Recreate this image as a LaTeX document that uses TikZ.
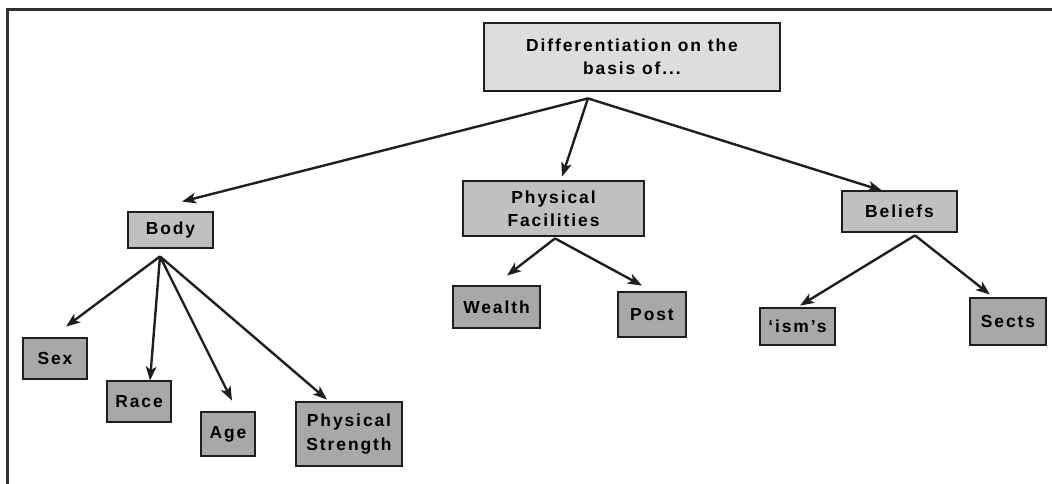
\documentclass[tikz,border=0pt]{standalone}
\usepackage{fontspec}
\setmainfont{Liberation Sans}
\newfontfamily\boxfont{Liberation Sans}[LetterSpace=11]
\usetikzlibrary{arrows.meta, calc}
\definecolor{boxedge}{HTML}{1E1E1E}
\definecolor{framegray}{HTML}{2E2E2E}
\definecolor{toplight}{HTML}{DDDDDD}
\definecolor{midgray}{HTML}{C0C0C0}
\definecolor{leafgray}{HTML}{A8A8A8}

\begin{document}
\begin{tikzpicture}[
  x=0.025cm, y=-0.025cm,
  box/.style={rectangle, draw=boxedge, line width=2pt, inner sep=0pt, align=center,
    font=\boxfont\bfseries\fontsize{12.4}{16.5}\selectfont},
  topbox/.style={box, fill=toplight},
  midbox/.style={box, fill=midgray},
  leafbox/.style={box, fill=leafgray},
  arr/.style={-{Stealth[length=10pt, width=7.5pt, inset=2.5pt]}, line width=1.7pt, boxedge}
]
\useasboundingbox (0,0) rectangle (1052,484);
\draw[framegray, line width=2pt] (6,9.5) -- (1052,9.5);
\draw[framegray, line width=2pt] (7.5,9) -- (7.5,484);

\node[topbox, minimum width=7.4cm, minimum height=1.7cm] (basis) at (632,57) {Differentiation on the\\basis of...};
\node[midbox, minimum width=2.125cm, minimum height=0.9cm] (body) at (170.5,230) {Body};
\node[midbox, minimum width=4.525cm, minimum height=1.375cm] (facil) at (553.5,208.5) {Physical\\Facilities};
\node[midbox, minimum width=2.875cm, minimum height=1.025cm] (beliefs) at (899.5,211.5) {Beliefs};
\node[leafbox, minimum width=1.6cm, minimum height=1.025cm] (sex) at (55,358.5) {Sex};
\node[leafbox, minimum width=1.6cm, minimum height=1.025cm] (race) at (139,401.5) {Race};
\node[leafbox, minimum width=1.35cm, minimum height=1.1cm] (age) at (228,434) {Age};
\node[leafbox, minimum width=2.65cm, minimum height=1.6cm] (strength) at (349,434) {Physical\\Strength};
\node[leafbox, minimum width=2.175cm, minimum height=1.05cm] (wealth) at (496.5,307) {Wealth};
\node[leafbox, minimum width=1.7cm, minimum height=1.125cm] (post) at (652,314.5) {Post};
\node[leafbox, minimum width=1.875cm, minimum height=0.925cm] (isms) at (797.5,326.5) {‘ism’s};
\node[leafbox, minimum width=1.9cm, minimum height=1.175cm] (sects) at (1008,321.5) {Sects};

\coordinate (basisfan) at ($(basis.south)+(-44,6)$);
\coordinate (bodyfan) at ($(body.south)+(-10.5,7)$);
\coordinate (facilfan) at ($(facil.south)+(1.5,1)$);
\coordinate (beliefsfan) at ($(beliefs.south)+(15.5,2)$);

\draw[arr] (basisfan) -- ($(body.north)+(11.5,-9)$);
\draw[arr] (basisfan) -- ($(facil.north)+(8.5,-3)$);
\draw[arr] (basisfan) -- ($(beliefs.north)+(-17.5,1)$);
\draw[arr] (bodyfan) -- ($(sex.north)+(11,-10)$);
\draw[arr] (bodyfan) -- ($(race.north)+(11,1)$);
\draw[arr] (bodyfan) -- ($(age.north)+(4,-10)$);
\draw[arr] (bodyfan) -- ($(strength.north)+(-22,-1)$);
\draw[arr] (facilfan) -- ($(wealth.north)+(10.5,-9)$);
\draw[arr] (facilfan) -- ($(post.north)+(-10,-5)$);
\draw[arr] (beliefsfan) -- ($(isms.north)+(2.5,-1)$);
\draw[arr] (beliefsfan) -- ($(sects.north)+(-18,-2)$);
\end{tikzpicture}
\end{document}
